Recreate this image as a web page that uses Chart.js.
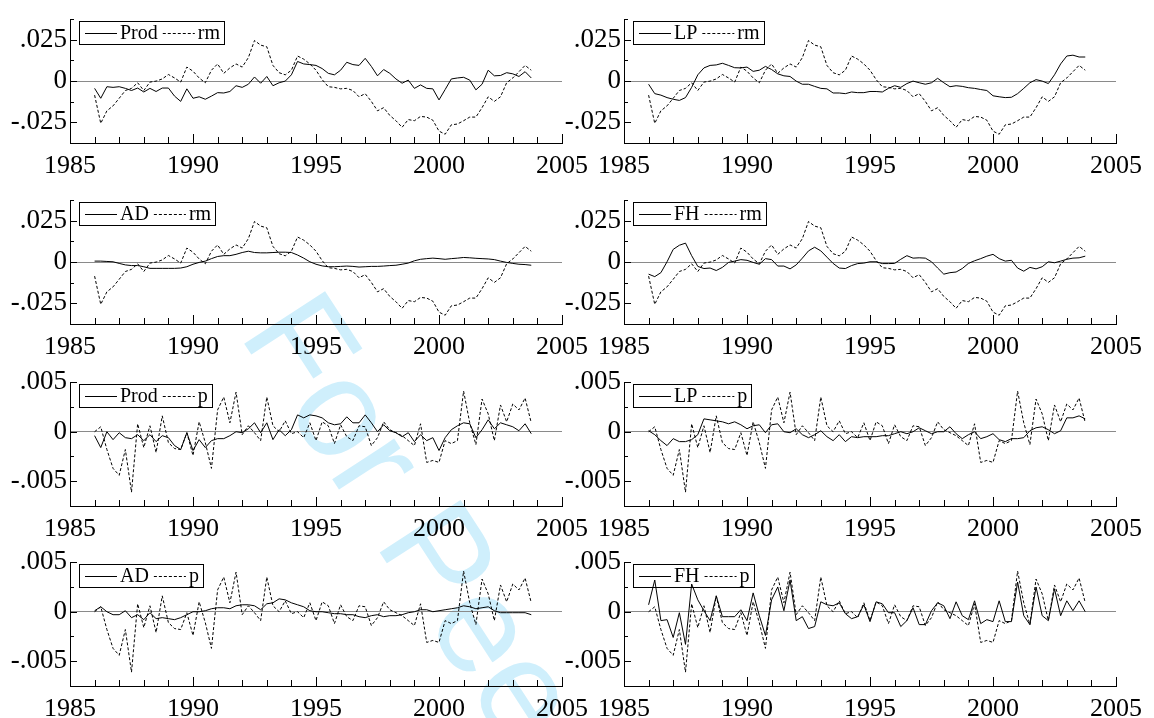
<!DOCTYPE html>
<html>
<head>
<meta charset="utf-8">
<script src="https://cdn.jsdelivr.net/npm/chart.js@4"></script>
<style>
  body { margin: 0; background: #fff; width: 1154px; height: 718px; overflow: hidden; position: relative; }
  .wm { position: absolute; left: 0; top: 0; }
  canvas { position: absolute; }
</style>
</head>
<body>
<svg class="wm" width="1154" height="718">
  <text x="238" y="334" transform="rotate(57 238 334)" font-size="140" font-family="Liberation Sans" fill="#cfeffc">For Peer Review</text>
</svg>
<canvas id="c0" width="600" height="180" style="left:0;top:0"></canvas>
<canvas id="c1" width="600" height="180" style="left:554px;top:0"></canvas>
<canvas id="c2" width="600" height="180" style="left:0;top:181px"></canvas>
<canvas id="c3" width="600" height="180" style="left:554px;top:181px"></canvas>
<canvas id="c4" width="600" height="180" style="left:0;top:363px"></canvas>
<canvas id="c5" width="600" height="180" style="left:554px;top:363px"></canvas>
<canvas id="c6" width="600" height="180" style="left:0;top:543px"></canvas>
<canvas id="c7" width="600" height="180" style="left:554px;top:543px"></canvas>
<script>
// quarterly data, 1986Q1 .. 2003Q4
const quarters = [];
for (let yr = 1986; yr < 2004; yr++) for (let q = 0; q < 4; q++) quarters.push(yr + q / 4);

const rm = [
  -0.0085, -0.0256, -0.018, -0.015, -0.0104, -0.0057, -0.0044, -0.001, -0.0057, -0.0006,
  0, 0.0013, 0.004, 0.0019, -0.0006, 0.0085, 0.006, 0.0019, -0.001, 0.0066,
  0.0104, 0.0047, 0.008, 0.0104, 0.0085, 0.0142, 0.0246, 0.0218, 0.0208, 0.0095,
  0.0051, 0.0038, 0.0066, 0.0152, 0.0133, 0.0104, 0.0066, 0.0009, -0.0034, -0.0038,
  -0.0047, -0.0044, -0.0057, -0.0095, -0.0076, -0.0123, -0.018, -0.0161, -0.0208, -0.024,
  -0.028, -0.0233, -0.024, -0.0214, -0.0218, -0.0237, -0.0303, -0.0322, -0.0265, -0.026,
  -0.024, -0.0218, -0.0218, -0.0161, -0.0095, -0.0123, -0.0095, -0.001, 0.0019, 0.0057,
  0.0095, 0.0066
];
const p = [
  0, 0.0005, -0.0018, -0.0037, -0.0044, -0.0018, -0.0061, 0.0008, -0.0016, 0.0006,
  -0.0021, 0.0016, -0.0011, -0.0017, -0.0018, -0.0001, -0.0024, 0.001, -0.0011, -0.0037,
  0.0022, 0.0035, 0.0009, 0.004, -0.0003, 0.0006, -0.0001, -0.0009, 0.0035, 0.0006,
  0, 0.0011, -0.0002, 0, -0.0006, 0.0009, -0.0009, 0.001, 0.0006, -0.0012,
  0.0007, -0.0005, -0.0009, 0.0006, 0.0005, -0.0014, -0.0006, 0.001, 0.0002, -0.0001,
  -0.0004, -0.0009, -0.0014, 0.0008, -0.0031, -0.0029, -0.0031, -0.0009, -0.0012, -0.0009,
  0.0041, 0.0009, -0.0013, 0.0033, 0.0018, -0.0009, 0.0027, 0.001, 0.0028, 0.0022,
  0.0034, 0.0009
];

const prodR = [
  -0.0044, -0.0104, -0.0034, -0.0038, -0.0034, -0.0044, -0.0057, -0.0042, -0.0066, -0.0044,
  -0.0063, -0.0042, -0.0042, -0.0091, -0.0123, -0.0047, -0.0104, -0.0095, -0.011, -0.0091,
  -0.007, -0.0072, -0.0063, -0.0028, -0.0038, -0.0019, 0.0025, -0.0013, 0.0028, -0.0028,
  -0.001, 0, 0.0038, 0.0119, 0.0104, 0.01, 0.0095, 0.0076, 0.0047, 0.0038,
  0.0066, 0.0114, 0.01, 0.0095, 0.0138, 0.0089, 0.0032, 0.007, 0.0047, 0.0013,
  -0.0013, 0.0006, -0.0044, -0.0023, -0.0044, -0.0047, -0.0114, -0.0051, 0.0013, 0.0019,
  0.0023, 0.0006, -0.0053, -0.0019, 0.0066, 0.0032, 0.0034, 0.0051, 0.0044, 0.0028,
  0.0057, 0.0019
];
const lpR = [
  -0.0019, -0.0076, -0.0085, -0.01, -0.011, -0.0117, -0.01, -0.0038, 0.0038, 0.008,
  0.0095, 0.0098, 0.0108, 0.0095, 0.0081, 0.008, 0.0085, 0.0059, 0.0066, 0.0089,
  0.007, 0.0044, 0.0032, 0.0028, 0, -0.0019, -0.0019, -0.0032, -0.0044, -0.0047,
  -0.0072, -0.0072, -0.0076, -0.0066, -0.007, -0.007, -0.0063, -0.0063, -0.0066, -0.0044,
  -0.0028, -0.0038, -0.0015, 0, -0.001, -0.0019, -0.001, 0.0017, -0.001, -0.0034,
  -0.0028, -0.0032, -0.004, -0.0044, -0.0051, -0.0057, -0.0089, -0.0095, -0.01, -0.0098,
  -0.0076, -0.0044, -0.001, 0.0009, 0, -0.0015, 0.0038, 0.0104, 0.0152, 0.0157,
  0.0146, 0.0146
];
const adR = [
  0.0006, 0.0006, 0.0004, 0.0002, -0.0008, -0.0017, -0.0021, -0.0021, -0.0028, -0.0038,
  -0.0038, -0.0038, -0.0038, -0.0038, -0.0036, -0.0028, -0.0013, -0.0002, 0.0006, 0.0021,
  0.0034, 0.0039, 0.0039, 0.0047, 0.0058, 0.0066, 0.0058, 0.0056, 0.0056, 0.0058,
  0.006, 0.006, 0.0058, 0.0043, 0.0024, 0.0002, -0.0013, -0.0023, -0.0028, -0.0028,
  -0.0026, -0.0024, -0.0026, -0.003, -0.0028, -0.0026, -0.0026, -0.0024, -0.0021, -0.0019,
  -0.0013, -0.0006, 0.0008, 0.0017, 0.0021, 0.0024, 0.0021, 0.0017, 0.0021, 0.0024,
  0.0028, 0.0026, 0.0023, 0.0021, 0.0019, 0.0015, 0.0006, -0.0002, -0.0008, -0.0013,
  -0.0015, -0.0019
];
const fhR = [
  -0.0073, -0.0088, -0.0064, 0.0002, 0.0077, 0.0102, 0.0115, 0.0039, -0.0026, -0.0039,
  -0.0036, -0.0051, -0.0032, -0.0002, 0.0006, 0.0015, 0.0011, -0.0002, -0.0013, 0.0021,
  0.0015, -0.0024, -0.0024, -0.0041, -0.0017, 0.0024, 0.0068, 0.009, 0.0068, 0.003,
  -0.0008, -0.0036, -0.0039, -0.0021, -0.0009, -0.0006, 0.0002, 0.0002, -0.0009, -0.0009,
  -0.0008, 0.0017, 0.0039, 0.0024, 0.0026, 0.0024, 0.0002, -0.0036, -0.0073, -0.0064,
  -0.006, -0.0039, -0.0008, 0.0008, 0.0021, 0.0036, 0.0047, 0.0021, 0.0006, 0.0011,
  -0.0036, -0.0055, -0.0032, -0.0041, -0.0028, 0.0002, -0.0004, 0.0006, 0.0017, 0.0024,
  0.0026, 0.0036
];

const prodP = [
  -0.0004, -0.0016, 0, -0.0008, -0.0001, -0.0006, -0.0007, -0.0003, -0.0009, -0.0003,
  -0.001, -0.0004, -0.0006, -0.0014, -0.0018, -0.0001, -0.0019, -0.0008, -0.0016, -0.0009,
  -0.0007, -0.0007, -0.0004, 0, -0.0001, 0.0003, 0.0009, -0.0001, 0.0009, -0.0008,
  0.0002, -0.0004, 0.0002, 0.0017, 0.0014, 0.0017, 0.0016, 0.0014, 0.0009, 0.0007,
  0.0008, 0.0015, 0.0009, 0.0009, 0.0017, 0.0009, 0, 0.0007, 0.0001, -0.0001,
  -0.0005, -0.0001, -0.001, -0.0003, -0.0009, -0.0006, -0.0019, -0.0006, 0.0002, 0.0006,
  0.0009, 0.0008, -0.0006, 0.0002, 0.0012, 0.0003, 0.0009, 0.0007, 0.0005, 0.0001,
  0.0008, -0.0002
];
const lpP = [
  0.0001, -0.0003, -0.0009, -0.0014, -0.0007, -0.001, -0.001, -0.0008, -0.0003, 0.0013,
  0.0012, 0.0011, 0.001, 0.0008, 0.001, 0.0007, 0.0003, 0.0006, 0.0007, -0.0001,
  0.0007, 0.0008, 0, -0.0001, 0.0003, -0.0003, -0.0006, -0.0003, 0.0001, -0.0005,
  -0.0009, -0.0003, -0.001, -0.0005, -0.0006, -0.0005, -0.0005, -0.0005, -0.0004, -0.0004,
  -0.0002, 0, -0.0002, 0, 0.0004, 0.0001, -0.0002, 0, 0, 0.0005,
  -0.0002, -0.0007, -0.0003, 0, -0.0007, -0.0005, -0.0002, -0.0008, -0.001, -0.0007,
  -0.0007, -0.0006, 0.0001, 0.0004, 0.0005, 0.0002, -0.0002, 0.0001, 0.0014, 0.0014,
  0.0016, 0.0013
];
const adP = [
  0.0001, 0.0005, 0, -0.0003, -0.0003, 0.0001, -0.0006, -0.0003, -0.0008, -0.0001,
  -0.0007, -0.0006, -0.0007, -0.0008, -0.0006, -0.0003, 0, 0, 0.0001, 0.0003,
  0.0004, 0.0004, 0.0003, 0.0006, 0.0007, 0.0007, 0.0006, 0.0002, 0.0008, 0.0009,
  0.0013, 0.0012, 0.0009, 0.0007, 0.0005, 0.0001, 0, 0, -0.0001, -0.0002,
  -0.0002, -0.0003, -0.0003, -0.0005, -0.0006, -0.0004, -0.0003, -0.0005, -0.0004, -0.0004,
  -0.0003, -0.0001, 0, 0.0002, 0.0002, 0, 0.0001, 0.0002, 0.0003, 0.0004,
  0.0006, 0.0005, 0.0003, 0.0004, 0.0005, 0.0001, -0.0001, -0.0001, -0.0001, -0.0001,
  -0.0001, -0.0003
];
const fhP = [
  0.0007, 0.0032, -0.0009, -0.0008, -0.0026, -0.0001, -0.0033, 0.0028, 0.0012, 0.0001,
  -0.0009, 0.0016, -0.0005, -0.0005, -0.0005, 0.0002, -0.0009, 0.0019, -0.0004, -0.0024,
  0.0012, 0.0025, 0.0001, 0.0032, -0.0009, -0.0005, -0.0017, -0.0015, 0.001, 0.0007,
  0.0006, 0.0009, -0.0002, -0.0007, -0.0005, 0.0007, -0.001, 0.001, 0.0008, -0.0001,
  -0.0001, -0.0015, -0.0009, 0.0004, -0.0013, -0.0013, 0.0001, 0.0009, 0.0006, -0.0007,
  0.001, -0.0004, -0.0008, 0.0011, -0.0012, -0.0008, -0.001, 0.0011, -0.001, -0.001,
  0.003, -0.0004, -0.0013, 0.0025, -0.0004, -0.0009, 0.0023, -0.0004, 0.0011, 0.0001,
  0.0011, 0
];

// y tick labels
const rTickLabels = { '0.025': '.025', '0': '0', '-0.025': '-.025' };
const pTickLabels = { '0.005': '.005', '0': '0', '-0.005': '-.005' };
const yearLabels = [1985, 1990, 1995, 2000, 2005];

const panels = [
  { id: 'c0', name: 'Prod', series: prodR, ref: 'rm', refSeries: rm },
  { id: 'c1', name: 'LP', series: lpR, ref: 'rm', refSeries: rm },
  { id: 'c2', name: 'AD', series: adR, ref: 'rm', refSeries: rm },
  { id: 'c3', name: 'FH', series: fhR, ref: 'rm', refSeries: rm },
  { id: 'c4', name: 'Prod', series: prodP, ref: 'p', refSeries: p },
  { id: 'c5', name: 'LP', series: lpP, ref: 'p', refSeries: p },
  { id: 'c6', name: 'AD', series: adP, ref: 'p', refSeries: p },
  { id: 'c7', name: 'FH', series: fhP, ref: 'p', refSeries: p }
];

Chart.defaults.font.family = '"Liberation Serif", "Times New Roman", serif';
Chart.defaults.color = '#000';

// ticks pointing into the plot, like the original
const inwardTicks = {
  id: 'inwardTicks',
  afterDraw(chart) {
    const { ctx, chartArea: a, scales: { x, y } } = chart;
    ctx.save();
    ctx.strokeStyle = '#000';
    ctx.lineWidth = 1;
    ctx.beginPath();
    x.ticks.forEach(t => {
      const px = Math.round(x.getPixelForValue(t.value)) + 0.5;
      const len = t.value % 5 === 0 ? 9 : 6;
      ctx.moveTo(px, a.bottom);
      ctx.lineTo(px, a.bottom - len);
    });
    y.ticks.forEach(t => {
      const py = Math.round(y.getPixelForValue(t.value)) + 0.5;
      const len = t.label ? 7 : 4;
      ctx.moveTo(a.left, py);
      ctx.lineTo(a.left + len, py);
    });
    ctx.stroke();
    ctx.restore();
  }
};

// boxed legend in the top-left corner of the plot
const boxedLegend = {
  id: 'boxedLegend',
  afterDraw(chart) {
    const { ctx, chartArea: a } = chart;
    const sets = chart.data.datasets;
    ctx.save();
    ctx.font = '20px "Liberation Serif"';
    const x0 = a.left + 9, y0 = a.top + 2, h = 23;
    const mid = y0 + h / 2;
    let x = x0 + 6;
    ctx.strokeStyle = '#000';
    ctx.lineWidth = 1;
    sets.forEach((ds, i) => {
      ctx.setLineDash(ds.borderDash || []);
      ctx.beginPath();
      ctx.moveTo(x, Math.round(mid) + 0.5);
      ctx.lineTo(x + 32, Math.round(mid) + 0.5);
      ctx.stroke();
      x += 35;
      ctx.setLineDash([]);
      ctx.fillStyle = '#000';
      ctx.textBaseline = 'middle';
      ctx.fillText(ds.label, x, mid + 1);
      x += ctx.measureText(ds.label).width + (i < sets.length - 1 ? 5 : 4);
    });
    ctx.setLineDash([]);
    ctx.strokeRect(Math.round(x0) + 0.5, Math.round(y0) + 0.5, Math.round(x - x0), h);
    ctx.restore();
  }
};

panels.forEach(cfg => {
  const isRate = cfg.ref === 'rm';
  const tickLabels = isRate ? rTickLabels : pTickLabels;
  new Chart(document.getElementById(cfg.id), {
    type: 'line',
    data: {
      datasets: [
        {
          label: cfg.name,
          data: quarters.map((q, i) => ({ x: q, y: cfg.series[i] })),
          borderColor: '#000',
          borderWidth: 1,
          pointRadius: 0,
          tension: 0
        },
        {
          label: cfg.ref,
          data: quarters.map((q, i) => ({ x: q, y: cfg.refSeries[i] })),
          borderColor: '#000',
          borderWidth: 1,
          borderDash: [3, 2],
          pointRadius: 0,
          tension: 0
        }
      ]
    },
    options: {
      responsive: false,
      animation: false,
      devicePixelRatio: 1,
      layout: { padding: { top: 12, right: 38, left: 0, bottom: 0 } },
      plugins: { legend: { display: false }, tooltip: { enabled: false } },
      scales: {
        x: {
          type: 'linear',
          min: 1985,
          max: 2005,
          grid: { display: false },
          border: { display: true, color: '#000', width: 1 },
          afterFit: s => { s.height = 37; },
          ticks: {
            stepSize: 1,
            autoSkip: false,
            maxRotation: 0,
            padding: 0,
            font: { size: 26 },
            callback: v => yearLabels.includes(v) ? String(v) : ''
          }
        },
        y: {
          min: isRate ? -0.0375 : -0.0075,
          max: isRate ? 0.0375 : 0.005,
          afterFit: s => { s.width = 70; },
          grid: {
            drawTicks: false,
            color: c => (c.tick && Math.abs(c.tick.value) < 1e-9) ? '#8a8a8a' : 'rgba(0,0,0,0)'
          },
          border: { display: true, color: '#000', width: 1 },
          ticks: {
            stepSize: isRate ? 0.0125 : 0.0025,
            autoSkip: false,
            padding: 3,
            font: { size: 27 },
            callback: v => {
              const key = String(Math.round(v * 10000) / 10000);
              return tickLabels[key] || '';
            }
          }
        }
      }
    },
    plugins: [inwardTicks, boxedLegend]
  });
});
</script>
</body>
</html>
